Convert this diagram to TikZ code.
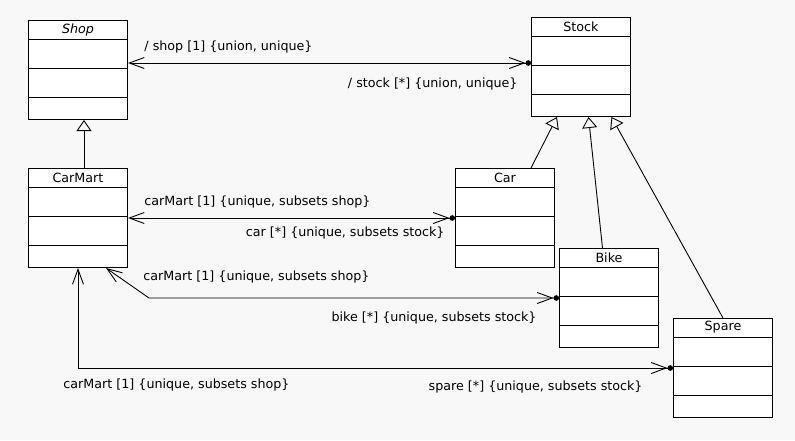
\documentclass[tikz,border=0pt]{standalone}
\usepackage{fontspec}
\setmainfont{DejaVu Sans}
\usetikzlibrary{arrows.meta}
\definecolor{canvas}{RGB}{248,248,248}

\begin{document}
\begin{tikzpicture}[x=1pt,y=-1pt,
classbox/.style={draw,rectangle,fill=white,anchor=north west,inner sep=0pt,minimum width=99pt,minimum height=99pt,line width=1pt},
classname/.style={inner sep=0pt,font=\fontsize{12.7}{14}\selectfont},
role/.style={inner sep=0pt,font=\fontsize{12.7}{14}\selectfont},
assoc/.style={line width=0.9pt,{Straight Barb[length=15pt,width=11pt]}-{Straight Barb[length=15pt,width=11pt]Circle[length=5.5pt]}},
general/.style={line width=0.9pt,-{Triangle[open,length=11pt,width=15pt]}}]

\fill[canvas] (0,0) rectangle (795,440);
\useasboundingbox (0,0) rectangle (795,440);

% classes
\foreach \n/\x/\y/\t in {shop/28/20/\textit{Shop}, stock/531/17/Stock, carmart/28/168/CarMart,
  car/455/168/Car, bike/559/248/Bike, spare/673/318/Spare} {
  \node[classbox] (\n) at (\x,\y) {};
  \node[classname] (\n-name) at ([yshift=-9.5pt]\n.north) {\t};
  \foreach \d in {19,48,77}
    \draw[line width=1pt] ([yshift=-\d pt]\n.north west) -- ([yshift=-\d pt]\n.north east);
}

% generalizations
\draw[general] ([xshift=6pt]carmart.north) -- ([xshift=6pt]shop.south);
\draw[general] ([xshift=26pt]car.north) -- ([xshift=-24pt]stock.south);
\draw[general] ([xshift=-6.5pt]bike.north) -- ([xshift=7.5pt]stock.south);
\draw[general] (spare.north) -- ([xshift=30.5pt]stock.south);

% associations
\draw[assoc] ([yshift=7pt]shop.east) --
  node[role,pos=0,anchor=west,xshift=16pt,yshift=16pt] (shop-role) {/ shop [1] \{union, unique\}}
  node[role,pos=1,anchor=east,xshift=-13pt,yshift=-21pt] (stock-role) {/ stock [*] \{union, unique\}}
  ([yshift=7pt]shop.east -| stock.west);
\draw[assoc] (carmart.east) --
  node[role,pos=0,anchor=west,xshift=16pt,yshift=16pt] (carmart-car) {carMart [1] \{unique, subsets shop\}}
  node[role,pos=1,anchor=east,xshift=-10pt,yshift=-15pt] (car-role) {car [*] \{unique, subsets stock\}}
  (car.west);
\draw[assoc] ([xshift=-22pt]carmart.south east) -- ([xshift=-410pt]bike.west) --
  node[role,pos=0,anchor=west,xshift=-6pt,yshift=21pt] (carmart-bike) {carMart [1] \{unique, subsets shop\}}
  node[role,pos=1,anchor=east,xshift=-22pt,yshift=-20pt] (bike-role) {bike [*] \{unique, subsets stock\}}
  (bike.west);
\draw[assoc] (carmart.south) |-
  node[role,pos=0.5,anchor=west,xshift=-15pt,yshift=-17pt] (carmart-spare) {carMart [1] \{unique, subsets shop\}}
  node[role,pos=1,anchor=east,xshift=-30pt,yshift=-19pt] (spare-role) {spare [*] \{unique, subsets stock\}}
  (spare.west);

\end{tikzpicture}
\end{document}
